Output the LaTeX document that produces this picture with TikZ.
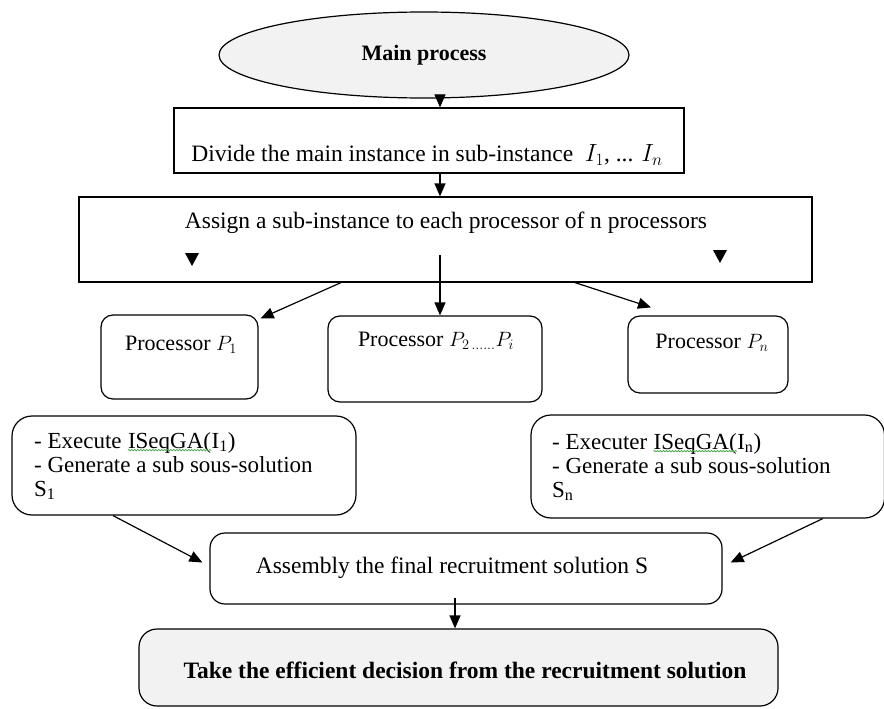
\documentclass[tikz,border=0pt]{standalone}
\usepackage{fontspec}
\setmainfont{Liberation Serif}
\usetikzlibrary{arrows.meta}
\usetikzlibrary{shapes.geometric}
\usetikzlibrary{decorations.pathmorphing}
\usetikzlibrary{positioning,calc}
\definecolor{lightfill}{HTML}{F2F2F2}
\definecolor{squig}{HTML}{4FA64F}
\tikzstyle{box}=[draw, line width=1.2pt, inner sep=0pt]
\tikzstyle{roundbox}=[box, rounded corners=12pt]
\tikzstyle{arr}=[-{Triangle[length=13pt,width=11pt]}, line width=1.2pt]
\tikzstyle{txt}=[inner sep=0pt, font=\fontsize{23.5}{22.5}\selectfont]
\tikzstyle{exectxt}=[inner sep=0pt, align=left, anchor=north west, font=\fontsize{23}{24}\selectfont]
\tikzstyle{proctxt}=[inner sep=0pt, font=\fontsize{22}{24}\selectfont]
\newcommand{\squiggly}[1]{\tikz[baseline=(sq.base)]{\node[inner sep=0pt] (sq) {#1};
  \draw[squig, line width=0.8pt, decorate, decoration={snake, amplitude=0.7pt, segment length=3pt}] ([yshift=-2pt]sq.base west) -- ([yshift=-2pt]sq.base east);}}

\begin{document}
\begin{tikzpicture}[x=1pt,y=-1pt]

\useasboundingbox (0,0) rectangle (884,709);

%  top: main process and the splitting
\node[ellipse, box, fill=lightfill, minimum width=410pt, minimum height=86pt, font=\fontsize{22}{24}\selectfont\bfseries] (main) at (424,55) {Main process};

\node[box, minimum width=510pt, minimum height=65pt] (divide) at (429,140.5) {};
\node[txt] (dividetxt) at (427,155) {Divide the main instance in sub-instance\ \ $I_1$, ... $I_n$};

\node[box, minimum width=733pt, minimum height=85pt] (assign) at (445.5,239.5) {};
\node[txt] (assigntxt) at (446,223) {Assign a sub-instance to each processor of n processors};

    \foreach \tx/\ty in {192/253, 720/250}
        \fill (\tx-7,\ty) -- (\tx+7,\ty) -- (\tx,\ty+13) -- cycle;

%  processors
\node[roundbox, minimum width=157pt, minimum height=84pt] (p1) at (179.5,357) {};
\node[proctxt] (p1txt) at (181,345) {Processor $P_1$};

\node[roundbox, minimum width=214pt, minimum height=86pt] (p2) at (435,359) {};
\node[proctxt] (p2txt) at (436,341) {Processor $P_{2\,\ldots\ldots}P_i$};

\node[roundbox, minimum width=160pt, minimum height=77pt] (pn) at (708,354.5) {};
\node[proctxt] (pntxt) at (712,343) {Processor $P_n$};

\node[box, rounded corners=20pt, minimum width=344pt, minimum height=99pt] (exec1) at (184,465.5) {};
\node[exectxt] (exec1txt) at (34,432) {- Execute \squiggly{ISeqGA(}I\textsubscript{1})\\- Generate a sub sous-solution\\S\textsubscript{1}};

\node[box, rounded corners=20pt, minimum width=353.5pt, minimum height=103pt] (execn) at (707.75,466.5) {};
\node[exectxt] (execntxt) at (552,433) {- Executer \squiggly{ISeqGA(}I\textsubscript{n})\\- Generate a sub sous-solution\\S\textsubscript{n}};

%  bottom
\node[box, rounded corners=15pt, minimum width=512pt, minimum height=71pt] (assembly) at (466,568.5) {};
\node[txt] (assemblytxt) at (452,568) {Assembly the final recruitment solution S};

\node[box, rounded corners=18pt, fill=lightfill, minimum width=639pt, minimum height=77pt] (take) at (458.5,667.5) {};
\node[txt, font=\fontsize{23.5}{24}\selectfont\bfseries] (taketxt) at (465,670) {Take the efficient decision from the recruitment solution};

\draw[arr] ([xshift=16pt]main.south) -- ([xshift=11pt]divide.north);
\draw[arr] ([xshift=11pt]divide.south) -- ([xshift=-5.5pt]assign.north);
\draw[arr] ([xshift=-104.5pt]assign.south) -- ([xshift=2pt,yshift=-4pt]p1.north east);
\draw[arr] ([xshift=-5.5pt,yshift=-15.5pt]assign.center) -- ([xshift=5pt]p2.north);
\draw[arr] ([xshift=129.5pt]assign.south) -- ([xshift=-57pt,yshift=8pt]pn.north);
\draw[arr] ([xshift=-71pt]exec1.south) -- ([xshift=-7pt,yshift=6pt]assembly.west);
\draw[arr] ([xshift=115pt]execn.south) -- ([xshift=8pt,yshift=6pt]assembly.east);
\draw[arr] ([xshift=-11pt,yshift=7pt]assembly.south) -- ([xshift=-3.5pt]take.north);

\end{tikzpicture}
\end{document}
